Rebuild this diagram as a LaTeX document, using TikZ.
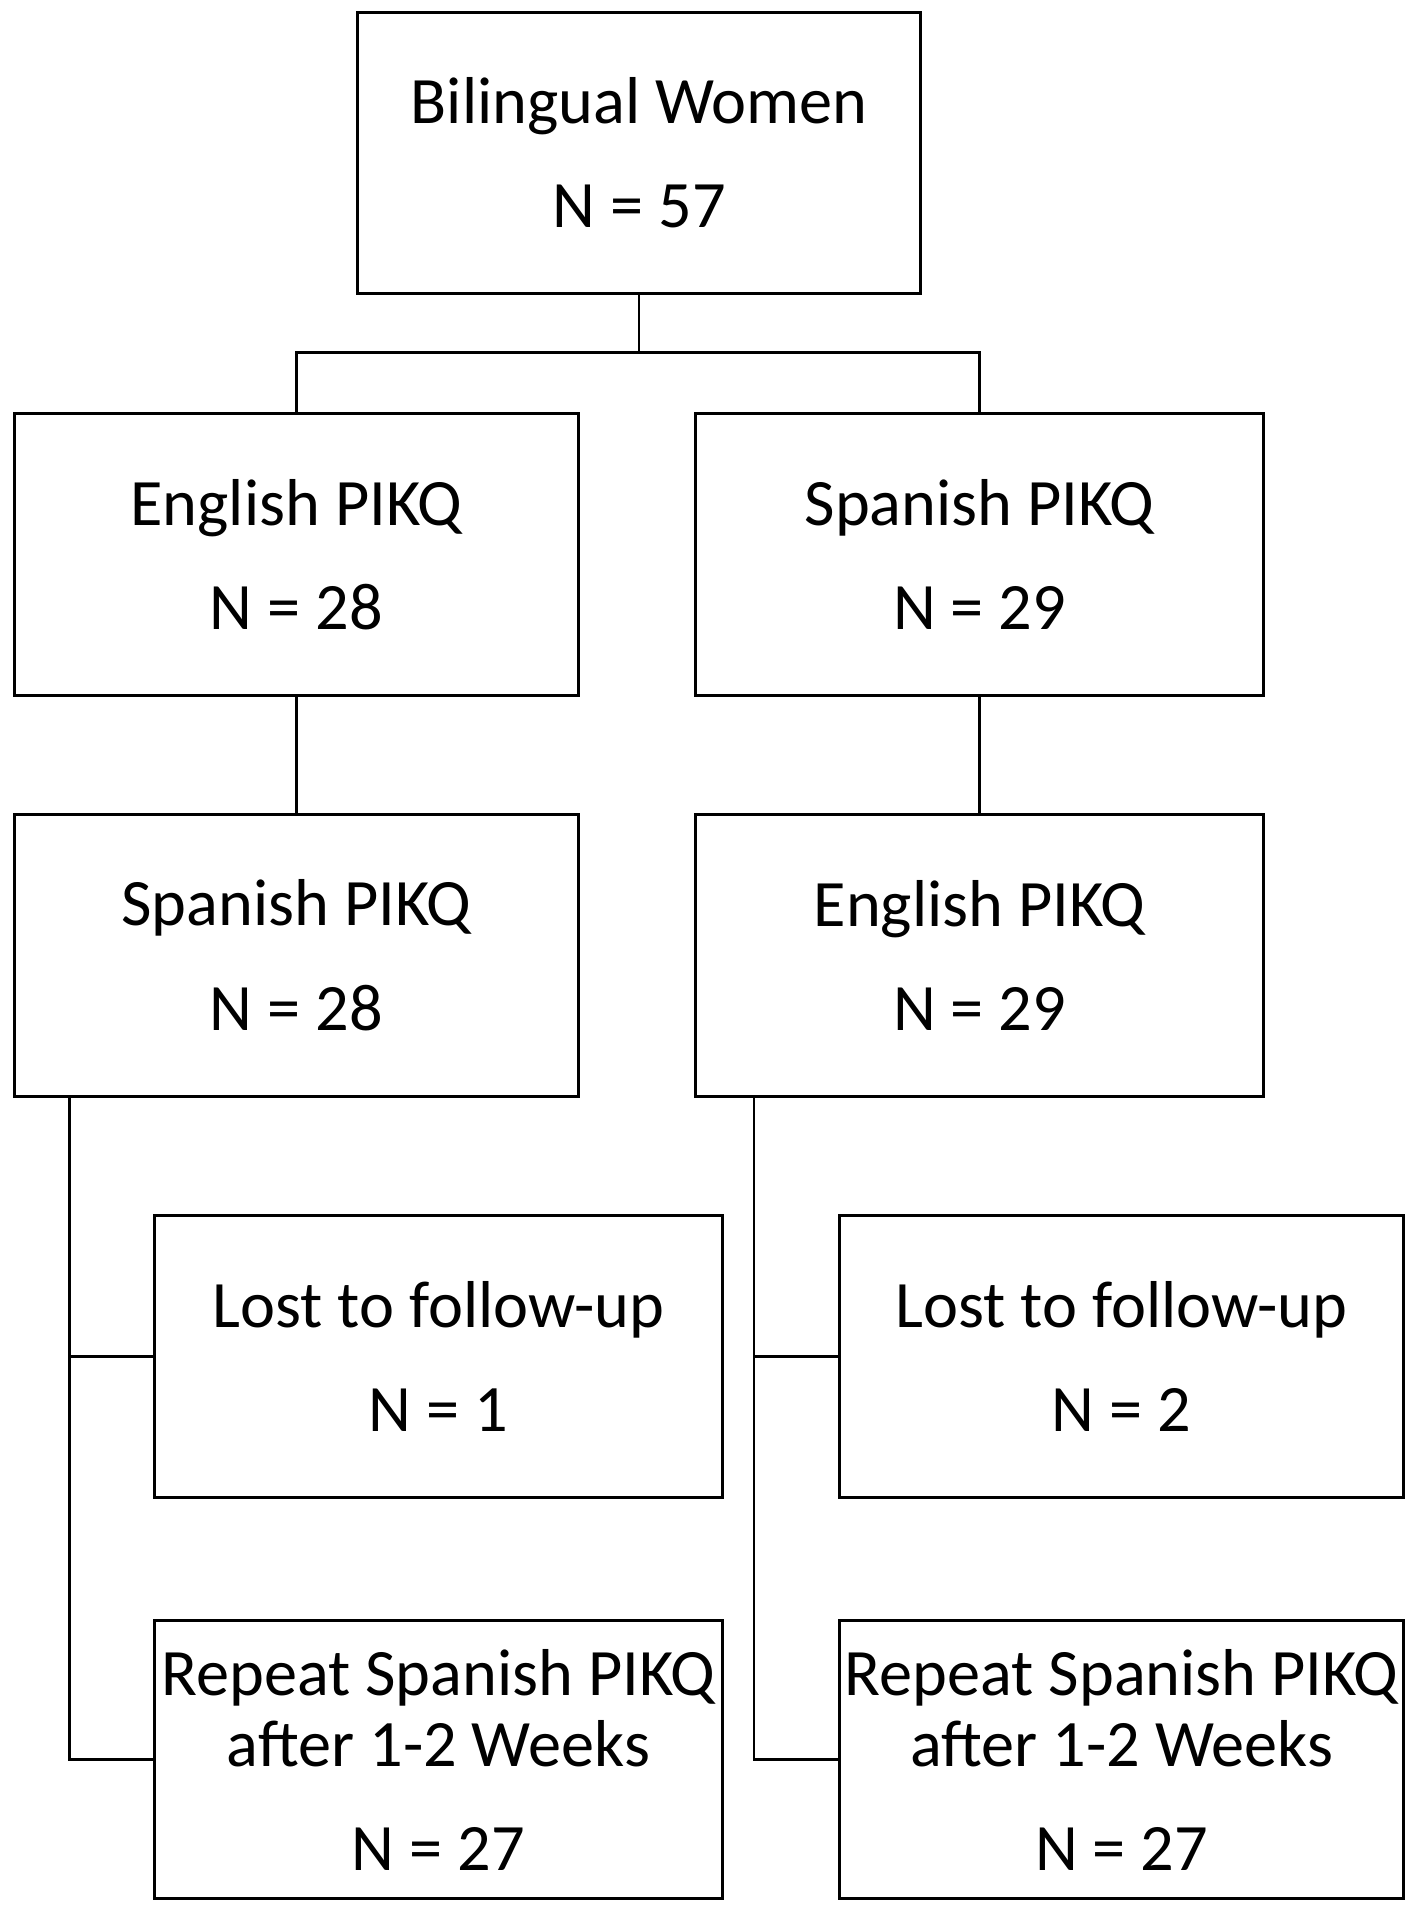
\documentclass[tikz,border=0pt]{standalone}
\usepackage{fontspec}
\setmainfont{Carlito}
\usetikzlibrary{positioning, calc}

\begin{document}
\begin{tikzpicture}[x=0.01cm, y=-0.01cm, font=\fontsize{15.4}{16.5}\selectfont,
  box/.style={draw, line width=0.7pt, align=center, minimum width=4.6cm,
    minimum height=2.3cm, inner sep=0pt, outer sep=0pt},
  link/.style={line width=0.6pt}]
  \useasboundingbox (0,0) rectangle (1160,1568);
  % boxes
  \node[box] (women) at (522,125) {Bilingual Women\\[7.7pt]N = 57};
  \node[box] (engA) at (242,453) {English PIKQ\\[7.7pt]N = 28};
  \node[box, minimum width=4.64cm] (spaB) at (800,453) {Spanish PIKQ\\[7.7pt]N = 29};
  \node[box] (spaA) at (242,780) {Spanish PIKQ\\[7.7pt]N = 28};
  \node[box, minimum width=4.64cm] (engB) at (800,780) {English PIKQ\\[7.7pt]N = 29};
  \node[box, minimum width=4.64cm] (lostA) at (358,1108) {Lost to follow-up\\[7.7pt]N = 1};
  \node[box] (lostB) at (916,1108) {Lost to follow-up\\[7.7pt]N = 2};
  \node[box, minimum width=4.64cm, minimum height=2.27cm] (repA) at (358,1437)
    {Repeat Spanish PIKQ\\after 1-2 Weeks\\[7.7pt]N = 27};
  \node[box, minimum height=2.27cm] (repB) at (916,1437)
    {Repeat Spanish PIKQ\\after 1-2 Weeks\\[7.7pt]N = 27};
  % connectors
  \coordinate (fork) at ($(women.south)+(0,48)$);
  \draw[link] (women.south) -- (fork);
  \draw[link] (engA.north) |- (fork) -| (spaB.north);
  \draw[link] (engA.south) -- (spaA.north);
  \draw[link] (spaB.south) -- (engB.north);
  \coordinate (trunkA) at ($(spaA.south west)+(45,0)$);
  \coordinate (trunkB) at ($(engB.south west)+(48,0)$);
  \draw[link] (trunkA) |- (lostA.west);
  \draw[link] (trunkA) |- (repA.west);
  \draw[link] (trunkB) |- (lostB.west);
  \draw[link] (trunkB) |- (repB.west);
\end{tikzpicture}
\end{document}
